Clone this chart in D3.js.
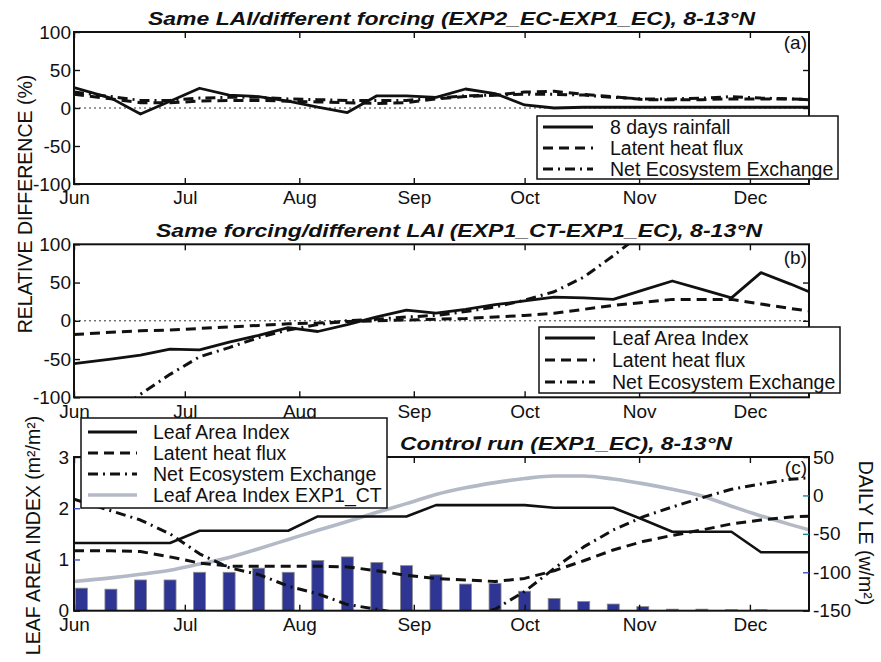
<!DOCTYPE html>
<html>
<head>
<meta charset="utf-8">
<script src="https://cdn.jsdelivr.net/npm/d3@7"></script>
<style>
  body { margin: 0; background: #fff; }
  svg text { font-family: "Liberation Sans", Arial, Helvetica, sans-serif; fill: #111; }
</style>
</head>
<body>
<svg id="chart" width="881" height="662"></svg>
<script>
// ---- time axis (days since 1 June) ----
const monthDays = [0, 30, 61, 92, 122, 153, 183];
const monthLabels = ["Jun", "Jul", "Aug", "Sep", "Oct", "Nov", "Dec"];
const days = [0, ...d3.range(10, 195, 8), 199];      // 8-day steps, closed at both ends
const barDays = d3.range(2, 187, 8);                  // 8-day bar centres

// ---- (a) same LAI / different forcing, relative difference (%) ----
const rainA = [27, 13, -8, 9, 26, 17, 15, 9, 1, -6, 16, 16, 14, 25, 19, 4, 0, 1, 1, 1, 1, 1, 1, 1, 1, 1];
const leA   = [18, 12, 7, 7, 9, 10, 10, 9, 8, 7, 6, 7, 12, 15, 17, 21, 22, 18, 15, 11, 11, 11, 12, 12, 12, 11];
const neeA  = [21, 15, 10, 10, 13, 14, 14, 12, 11, 10, 10, 10, 13, 16, 17, 18, 18, 17, 14, 12, 12, 13, 15, 13, 12, 11];

// ---- (b) same forcing / different LAI, relative difference (%) ----
const laiB = [-56, -50, -45, -37, -38, -28, -19, -9, -14, -5, 5, 14, 10, 15, 21, 26, 31, 30, 28, 40, 52, 41, 30, 63, 48, 38];
const leB  = [-18, -15, -13, -12, -10, -8, -6, -4, -3, -1, 0, 1, 2, 3, 5, 7, 10, 15, 20, 24, 28, 28, 28, 22, 16, 13];
const neeB = [null, -125, -96, -70, -47, -35, -22, -12, -5, 0, 2, 5, 7, 12, 18, 27, 38, 57, 85, 115, null, null, null, null, null, null];

// ---- (c) control run ----
const laiC  = [1.32, 1.32, 1.32, 1.32, 1.56, 1.56, 1.56, 1.56, 1.84, 1.84, 1.84, 1.84, 2.06, 2.06, 2.06, 2.06, 2.01, 2.01, 2.01, 1.78, 1.54, 1.54, 1.54, 1.14, 1.14, 1.14];
const laiCT = [0.57, 0.64, 0.71, 0.79, 0.91, 1.04, 1.21, 1.39, 1.57, 1.74, 1.92, 2.09, 2.27, 2.40, 2.50, 2.58, 2.63, 2.63, 2.57, 2.48, 2.37, 2.24, 2.04, 1.85, 1.68, 1.58];
const leC   = [-72, -72, -73, -80, -88, -92, -92, -92, -92, -93, -98, -104, -108, -110, -112, -108, -98, -85, -71, -60, -52, -45, -37, -32, -28, -27];
const neeC  = [-5, -20, -32, -50, -76, -94, -103, -118, -128, -142, -148, -155, -160, -158, -148, -125, -95, -67, -45, -28, -15, -3, 8, 15, 21, 23];
const barsC = [0.44, 0.42, 0.60, 0.60, 0.75, 0.75, 0.83, 0.75, 0.98, 1.05, 0.94, 0.88, 0.70, 0.52, 0.53, 0.38, 0.24, 0.18, 0.13, 0.08, 0.03, 0.03, 0.02, 0.02];

const relTicks = [-100, -50, 0, 50, 100];
const laiTicks = [0, 1, 2, 3];
const leTicks  = [-150, -100, -50, 0, 50];

// ---- layout ----
const svg = d3.select("#chart");
const FONT = 19;
const LEG_FONT = 19.5;
const L = 74, R = 809;
const x = d3.scaleLinear().domain([0, 199]).range([L, R]);
const plain = d => String(d);   // plain hyphen for negative numbers

const panels = {
  a: { top: 32, bottom: 184 },
  b: { top: 244.3, bottom: 397.3 },
  c: { top: 457, bottom: 610.7 }
};
const yA = d3.scaleLinear().domain([-100, 100]).range([panels.a.bottom, panels.a.top]);
const yB = d3.scaleLinear().domain([-100, 100]).range([panels.b.bottom, panels.b.top]);
const yL = d3.scaleLinear().domain([0, 3]).range([panels.c.bottom, panels.c.top]);
const yR = d3.scaleLinear().domain([-150, 50]).range([panels.c.bottom, panels.c.top]);

const styles = {
  solid:   { stroke: "#111", width: 2.8, dash: null },
  dashed:  { stroke: "#111", width: 3,   dash: "10,6" },
  dashdot: { stroke: "#111", width: 3,   dash: "10,5,2,5" },
  gray:    { stroke: "#b3bac6", width: 3.6, dash: null }
};

const defs = svg.append("defs");
function clipFor(id, p) {
  defs.append("clipPath").attr("id", id)
    .append("rect").attr("x", L).attr("y", p.top).attr("width", R - L).attr("height", p.bottom - p.top);
  return `url(#${id})`;
}

function drawSeries(g, values, yScale, style, curve) {
  const line = d3.line()
    .defined(d => d[1] != null)
    .x(d => x(d[0]))
    .y(d => yScale(d[1]))
    .curve(curve || d3.curveLinear);
  g.append("path")
    .datum(days.map((d, i) => [d, values[i]]))
    .attr("d", line)
    .attr("fill", "none")
    .attr("stroke", style.stroke)
    .attr("stroke-width", style.width)
    .attr("stroke-dasharray", style.dash)
    .attr("stroke-linejoin", "round");
}

function styleAxis(g) {
  g.select(".domain").remove();
  g.attr("font-size", FONT).attr("font-family", "'Liberation Sans', Arial, sans-serif");
  g.selectAll(".tick line").attr("stroke", "#111").attr("stroke-width", 1.4);
  g.selectAll(".tick text").attr("fill", "#111");
}

function monthAxes(p) {
  svg.append("g").attr("transform", `translate(0,${p.bottom})`)
    .call(d3.axisBottom(x).tickValues(monthDays)
      .tickFormat(d => monthLabels[monthDays.indexOf(d)]).tickSize(-6).tickPadding(7))
    .call(styleAxis);
  svg.append("g").attr("transform", `translate(0,${p.top})`)
    .call(d3.axisTop(x).tickValues(monthDays).tickFormat("").tickSize(-6))
    .call(styleAxis);
}

function frame(p) {
  svg.append("rect")
    .attr("x", L).attr("y", p.top).attr("width", R - L).attr("height", p.bottom - p.top)
    .attr("fill", "none").attr("stroke", "#111").attr("stroke-width", 2);
}

function zeroLine(yScale) {
  svg.append("line")
    .attr("x1", L).attr("x2", R).attr("y1", yScale(0)).attr("y2", yScale(0))
    .attr("stroke", "#333").attr("stroke-width", 1).attr("stroke-dasharray", "2,3");
}

function legend(x0, y0, w, h, sampleX, textX, rowYs, items) {
  const g = svg.append("g");
  g.append("rect").attr("x", x0).attr("y", y0).attr("width", w).attr("height", h)
    .attr("fill", "#fff").attr("stroke", "#111").attr("stroke-width", 1.5);
  items.forEach((it, i) => {
    const st = styles[it.style];
    g.append("line").attr("x1", sampleX[0]).attr("x2", sampleX[1])
      .attr("y1", rowYs[i]).attr("y2", rowYs[i])
      .attr("stroke", st.stroke).attr("stroke-width", st.width).attr("stroke-dasharray", st.dash);
    g.append("text").attr("x", textX).attr("y", rowYs[i]).attr("dy", "0.35em")
      .attr("font-size", LEG_FONT).text(it.label);
  });
}

function title(txt, x0, y0, len) {
  svg.append("text").attr("x", x0).attr("y", y0)
    .attr("font-size", 19).attr("font-weight", "bold").attr("font-style", "italic")
    .attr("textLength", len).attr("lengthAdjust", "spacingAndGlyphs")
    .text(txt);
}

function tag(txt, y0) {
  svg.append("text").attr("x", R - 2).attr("y", y0).attr("text-anchor", "end")
    .attr("font-size", FONT).text(txt);
}

// ================= panel (a) =================
{
  const p = panels.a;
  zeroLine(yA);
  const g = svg.append("g").attr("clip-path", clipFor("clipA", p));
  drawSeries(g, neeA, yA, styles.dashdot);
  drawSeries(g, leA, yA, styles.dashed);
  drawSeries(g, rainA, yA, styles.solid);
  frame(p);
  monthAxes(p);
  svg.append("g").attr("transform", `translate(${L},0)`)
    .call(d3.axisLeft(yA).tickValues(relTicks).tickFormat(plain).tickSize(-6).tickPadding(3))
    .call(styleAxis);
  svg.append("g").attr("transform", `translate(${R},0)`)
    .call(d3.axisRight(yA).tickValues([-50, 0, 50]).tickFormat("").tickSize(-6))
    .call(styleAxis);
  legend(537, 116, 301, 63, [543, 593], 610, [127, 148, 169], [
    { label: "8 days rainfall", style: "solid" },
    { label: "Latent heat flux", style: "dashed" },
    { label: "Net Ecosystem Exchange", style: "dashdot" }
  ]);
  title("Same LAI/different forcing (EXP2_EC-EXP1_EC), 8-13°N", 148, 25, 607);
  tag("(a)", 49);
}

// ================= panel (b) =================
{
  const p = panels.b;
  zeroLine(yB);
  const g = svg.append("g").attr("clip-path", clipFor("clipB", p));
  drawSeries(g, neeB, yB, styles.dashdot);
  drawSeries(g, leB, yB, styles.dashed);
  drawSeries(g, laiB, yB, styles.solid);
  frame(p);
  monthAxes(p);
  svg.append("g").attr("transform", `translate(${L},0)`)
    .call(d3.axisLeft(yB).tickValues(relTicks).tickFormat(plain).tickSize(-6).tickPadding(3))
    .call(styleAxis);
  svg.append("g").attr("transform", `translate(${R},0)`)
    .call(d3.axisRight(yB).tickValues([-50, 0, 50]).tickFormat("").tickSize(-6))
    .call(styleAxis);
  legend(539, 327, 301, 66, [545, 595], 612, [338, 360, 382], [
    { label: "Leaf Area Index", style: "solid" },
    { label: "Latent heat flux", style: "dashed" },
    { label: "Net Ecosystem Exchange", style: "dashdot" }
  ]);
  title("Same forcing/different LAI (EXP1_CT-EXP1_EC), 8-13°N", 156, 237, 606);
  tag("(b)", 264);
}

// shared y label for (a) and (b)
svg.append("text")
  .attr("transform", "translate(31.5,204) rotate(-90)")
  .attr("text-anchor", "middle").attr("font-size", 19.5)
  .text("RELATIVE DIFFERENCE (%)");

// ================= panel (c) =================
{
  const p = panels.c;
  const g = svg.append("g").attr("clip-path", clipFor("clipC", p));
  const bw = 12;
  g.selectAll("rect.bar").data(barsC).join("rect")
    .attr("class", "bar")
    .attr("x", (d, i) => x(barDays[i]) - bw / 2)
    .attr("width", bw)
    .attr("y", d => yL(d))
    .attr("height", d => yL(0) - yL(d))
    .attr("fill", "#2f3592")
    .attr("stroke", "#8c8c8c").attr("stroke-width", 0.8);
  drawSeries(g, laiCT, yL, styles.gray, d3.curveMonotoneX);
  drawSeries(g, neeC, yR, styles.dashdot);
  drawSeries(g, leC, yR, styles.dashed);
  drawSeries(g, laiC, yL, { stroke: "#111", width: 2.6, dash: null });
  frame(p);
  monthAxes(p);
  const leftTickColor = { 1: "#3b50c4", 2: "#3b50c4" };
  svg.append("g").attr("transform", `translate(${L},0)`)
    .call(d3.axisLeft(yL).tickValues(laiTicks).tickFormat(d3.format("d")).tickSize(-6).tickPadding(5))
    .call(styleAxis)
    .call(ax => ax.selectAll(".tick line").attr("stroke", d => leftTickColor[d] || "#111"));
  const rightTickColor = { 0: "#17899a", "-50": "#17899a", "-100": "#3b50c4" };
  svg.append("g").attr("transform", `translate(${R},0)`)
    .call(d3.axisRight(yR).tickValues(leTicks).tickFormat(plain).tickSize(-6).tickPadding(4))
    .call(styleAxis)
    .call(ax => ax.selectAll(".tick line").attr("stroke", d => rightTickColor[d] || "#111"));
  legend(81, 418, 306, 90, [88, 137], 153, [432, 453, 474, 495], [
    { label: "Leaf Area Index", style: "solid" },
    { label: "Latent heat flux", style: "dashed" },
    { label: "Net Ecosystem Exchange", style: "dashdot" },
    { label: "Leaf Area Index EXP1_CT", style: "gray" }
  ]);
  title("Control run (EXP1_EC), 8-13°N", 400, 450, 332);
  tag("(c)", 474);

  svg.append("text")
    .attr("transform", "translate(40,535.5) rotate(-90)")
    .attr("text-anchor", "middle").attr("font-size", 19.5)
    .text("LEAF AREA INDEX (m²/m²)");
  svg.append("text")
    .attr("transform", "translate(859,533) rotate(90)")
    .attr("text-anchor", "middle").attr("font-size", 19.5)
    .text("DAILY  LE (w/m²)");
}
</script>
</body>
</html>
